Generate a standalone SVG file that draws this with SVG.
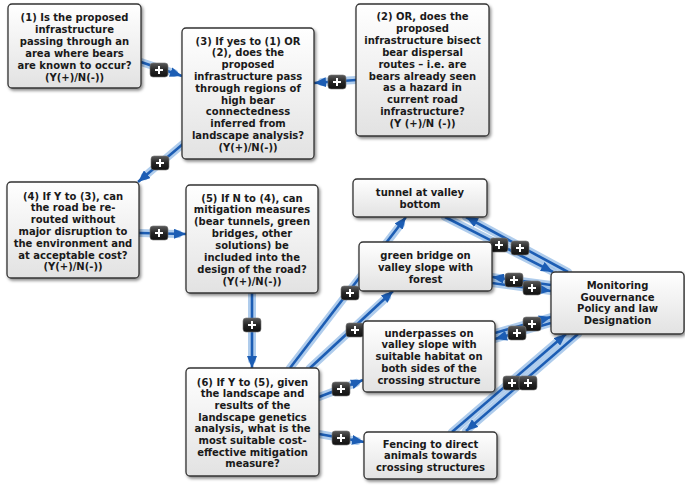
<svg xmlns="http://www.w3.org/2000/svg" width="685" height="489" viewBox="0 0 685 489">
<defs>
<linearGradient id="boxg" x1="0" y1="0" x2="0" y2="1">
<stop offset="0" stop-color="#ffffff"/>
<stop offset="1" stop-color="#e2e2e2"/>
</linearGradient>
<linearGradient id="badg" x1="0" y1="0" x2="0" y2="1">
<stop offset="0" stop-color="#5a5a5a"/>
<stop offset="0.5" stop-color="#262626"/>
<stop offset="1" stop-color="#111111"/>
</linearGradient>
<filter id="sh" x="-10%" y="-10%" width="125%" height="130%">
<feDropShadow dx="1.5" dy="2" stdDeviation="1.6" flood-color="#000" flood-opacity="0.45"/>
</filter>
<marker id="arr" viewBox="0 0 12 10" refX="12" refY="5" markerWidth="12" markerHeight="10" markerUnits="userSpaceOnUse" orient="auto">
<path d="M0,0 L12,5 L0,10 z" fill="#1c5db4"/>
</marker>
<g id="badge">
<rect x="-9" y="-7" width="18" height="14" rx="3" fill="url(#badg)" stroke="#777" stroke-width="0.6"/>
<path d="M-4,0 H4 M0,-4 V4" stroke="#fff" stroke-width="2"/>
</g>
</defs>
<style>
.halo{fill:none;stroke:#8db6e4;stroke-width:8;stroke-opacity:0.7;stroke-linecap:round}
.core{fill:none;stroke:#1c5db4;stroke-width:2.6;marker-end:url(#arr)}
.box{fill:url(#boxg);stroke:#333;stroke-width:1.3;filter:url(#sh)}
.t{font-family:"DejaVu Sans",Verdana,sans-serif;font-weight:bold;font-size:10px;fill:#1a1a1a;text-anchor:middle}
</style>
<g id="connectors">
<path class="halo" d="M141,62 L174,73"/><path class="core" d="M141,62 L182,76"/>
<path class="halo" d="M356,80 L322,82"/><path class="core" d="M356,80 L314,83"/>
<path class="halo" d="M190,138 L145,176"/><path class="core" d="M190,138 L138,182"/>
<path class="halo" d="M139,233 L178,234"/><path class="core" d="M139,233 L186,234"/>
<path class="halo" d="M252,293 L252,360"/><path class="core" d="M252,293 L252,368"/>
<path class="halo" d="M290,368 L401,224"/><path class="core" d="M290,368 L406,217"/>
<path class="halo" d="M310,368 L387,297"/><path class="core" d="M310,368 L393,291"/>
<path class="halo" d="M319,397 L356,383"/><path class="core" d="M319,397 L363,380"/>
<path class="halo" d="M319,434 L357,441"/><path class="core" d="M319,434 L364,442"/>
<path class="halo" d="M445,217 L553,272"/><path class="halo" d="M568,272 L466,217"/>
<path class="core" d="M445,217 L553,272"/><path class="core" d="M568,272 L466,217"/>
<path class="halo" d="M492,283 L551,291"/><path class="halo" d="M551,285 L492,277"/>
<path class="core" d="M492,283 L551,291"/><path class="core" d="M551,285 L492,277"/>
<path class="halo" d="M495,333 L551,317"/><path class="halo" d="M551,323 L495,339"/>
<path class="core" d="M495,333 L551,317"/><path class="core" d="M551,323 L495,339"/>
<path class="halo" d="M452,432 L566,334"/><path class="halo" d="M578,334 L466,431"/>
<path class="core" d="M452,432 L566,334"/><path class="core" d="M578,334 L466,431"/>
<use href="#badge" x="159" y="70"/>
<use href="#badge" x="337" y="82"/>
<use href="#badge" x="160" y="163"/>
<use href="#badge" x="159" y="233"/>
<use href="#badge" x="252" y="325"/>
<use href="#badge" x="350" y="293"/>
<use href="#badge" x="355" y="330"/>
<use href="#badge" x="341" y="389"/>
<use href="#badge" x="341" y="438"/>
<use href="#badge" x="499" y="245"/>
<use href="#badge" x="520" y="248"/>
<use href="#badge" x="514" y="280"/>
<use href="#badge" x="532" y="288"/>
<use href="#badge" x="532" y="324"/>
<use href="#badge" x="517" y="333"/>
<use href="#badge" x="512" y="383"/>
<use href="#badge" x="528" y="383"/>
</g>
<g id="n1">
<rect class="box" x="8" y="4" width="133" height="84" rx="4"/>
<text class="t"><tspan x="74.5" y="20.5">(1) Is the proposed</tspan><tspan x="74.5" y="32.5">infrastructure</tspan><tspan x="74.5" y="44.5">passing through an</tspan><tspan x="74.5" y="56.5">area where bears</tspan><tspan x="74.5" y="68.5">are known to occur?</tspan><tspan x="74.5" y="80.5">(Y(+)/N(-))</tspan></text>
</g>
<g id="n3">
<rect class="box" x="182" y="28" width="132" height="131" rx="4"/>
<text class="t"><tspan x="248" y="44.5">(3) If yes to (1) OR</tspan><tspan x="248" y="56.3">(2), does the</tspan><tspan x="248" y="68.1">proposed</tspan><tspan x="248" y="79.9">infrastructure pass</tspan><tspan x="248" y="91.7">through regions of</tspan><tspan x="248" y="103.5">high bear</tspan><tspan x="248" y="115.3">connectedness</tspan><tspan x="248" y="127.1">inferred from</tspan><tspan x="248" y="138.9">landscape analysis?</tspan><tspan x="248" y="150.7">(Y(+)/N(-))</tspan></text>
</g>
<g id="n2">
<rect class="box" x="356" y="4" width="133" height="132" rx="4"/>
<text class="t"><tspan x="422.5" y="20">(2) OR, does the</tspan><tspan x="422.5" y="31.9">proposed</tspan><tspan x="422.5" y="43.8">infrastructure bisect</tspan><tspan x="422.5" y="55.7">bear dispersal</tspan><tspan x="422.5" y="67.6">routes – i.e. are</tspan><tspan x="422.5" y="79.5">bears already seen</tspan><tspan x="422.5" y="91.4">as a hazard in</tspan><tspan x="422.5" y="103.3">current road</tspan><tspan x="422.5" y="115.2">infrastructure?</tspan><tspan x="422.5" y="127.1">(Y (+)/N (-))</tspan></text>
</g>
<g id="n4">
<rect class="box" x="7" y="182" width="132" height="96" rx="4"/>
<text class="t"><tspan x="73" y="199.5">(4) If Y to (3), can</tspan><tspan x="73" y="211.3">the road be re-</tspan><tspan x="73" y="223.1">routed without</tspan><tspan x="73" y="234.9">major disruption to</tspan><tspan x="73" y="246.7">the environment and</tspan><tspan x="73" y="258.5">at acceptable cost?</tspan><tspan x="73" y="270.3">(Y(+)/N(-))</tspan></text>
</g>
<g id="n5">
<rect class="box" x="186" y="185" width="132" height="108" rx="4"/>
<text class="t"><tspan x="252" y="201.5">(5) If N to (4), can</tspan><tspan x="252" y="213.4">mitigation measures</tspan><tspan x="252" y="225.2">(bear tunnels, green</tspan><tspan x="252" y="237.1">bridges, other</tspan><tspan x="252" y="248.9">solutions) be</tspan><tspan x="252" y="260.8">included into the</tspan><tspan x="252" y="272.6">design of the road?</tspan><tspan x="252" y="284.5">(Y(+)/N(-))</tspan></text>
</g>
<g id="n6">
<rect class="box" x="186" y="368" width="133" height="108" rx="4"/>
<text class="t"><tspan x="252.5" y="385.5">(6) If Y to (5), given</tspan><tspan x="252.5" y="397.2">the landscape and</tspan><tspan x="252.5" y="408.9">results of the</tspan><tspan x="252.5" y="420.6">landscape genetics</tspan><tspan x="252.5" y="432.3">analysis, what is the</tspan><tspan x="252.5" y="444">most suitable cost-</tspan><tspan x="252.5" y="455.7">effective mitigation</tspan><tspan x="252.5" y="467.4">measure?</tspan></text>
</g>
<g id="tunnel">
<rect class="box" x="353" y="179" width="134" height="38" rx="4"/>
<text class="t"><tspan x="420" y="196">tunnel at valley</tspan><tspan x="420" y="207.8">bottom</tspan></text>
</g>
<g id="green">
<rect class="box" x="359" y="242" width="133" height="49" rx="4"/>
<text class="t"><tspan x="425.5" y="259">green bridge on</tspan><tspan x="425.5" y="271">valley slope with</tspan><tspan x="425.5" y="283">forest</tspan></text>
</g>
<g id="monitoring">
<rect class="box" x="551" y="272" width="133" height="62" rx="4"/>
<text class="t"><tspan x="617.5" y="289">Monitoring</tspan><tspan x="617.5" y="300.7">Gouvernance</tspan><tspan x="617.5" y="312.4">Policy and law</tspan><tspan x="617.5" y="324.1">Designation</tspan></text>
</g>
<g id="underpasses">
<rect class="box" x="363" y="321" width="132" height="71" rx="4"/>
<text class="t"><tspan x="429" y="336.5">underpasses on</tspan><tspan x="429" y="348.3">valley slope with</tspan><tspan x="429" y="360">suitable habitat on</tspan><tspan x="429" y="371.8">both sides of the</tspan><tspan x="429" y="383.5">crossing structure</tspan></text>
</g>
<g id="fencing">
<rect class="box" x="364" y="432" width="133" height="47" rx="4"/>
<text class="t"><tspan x="430.5" y="447.5">Fencing to direct</tspan><tspan x="430.5" y="459.3">animals towards</tspan><tspan x="430.5" y="471">crossing structures</tspan></text>
</g>
</svg>
